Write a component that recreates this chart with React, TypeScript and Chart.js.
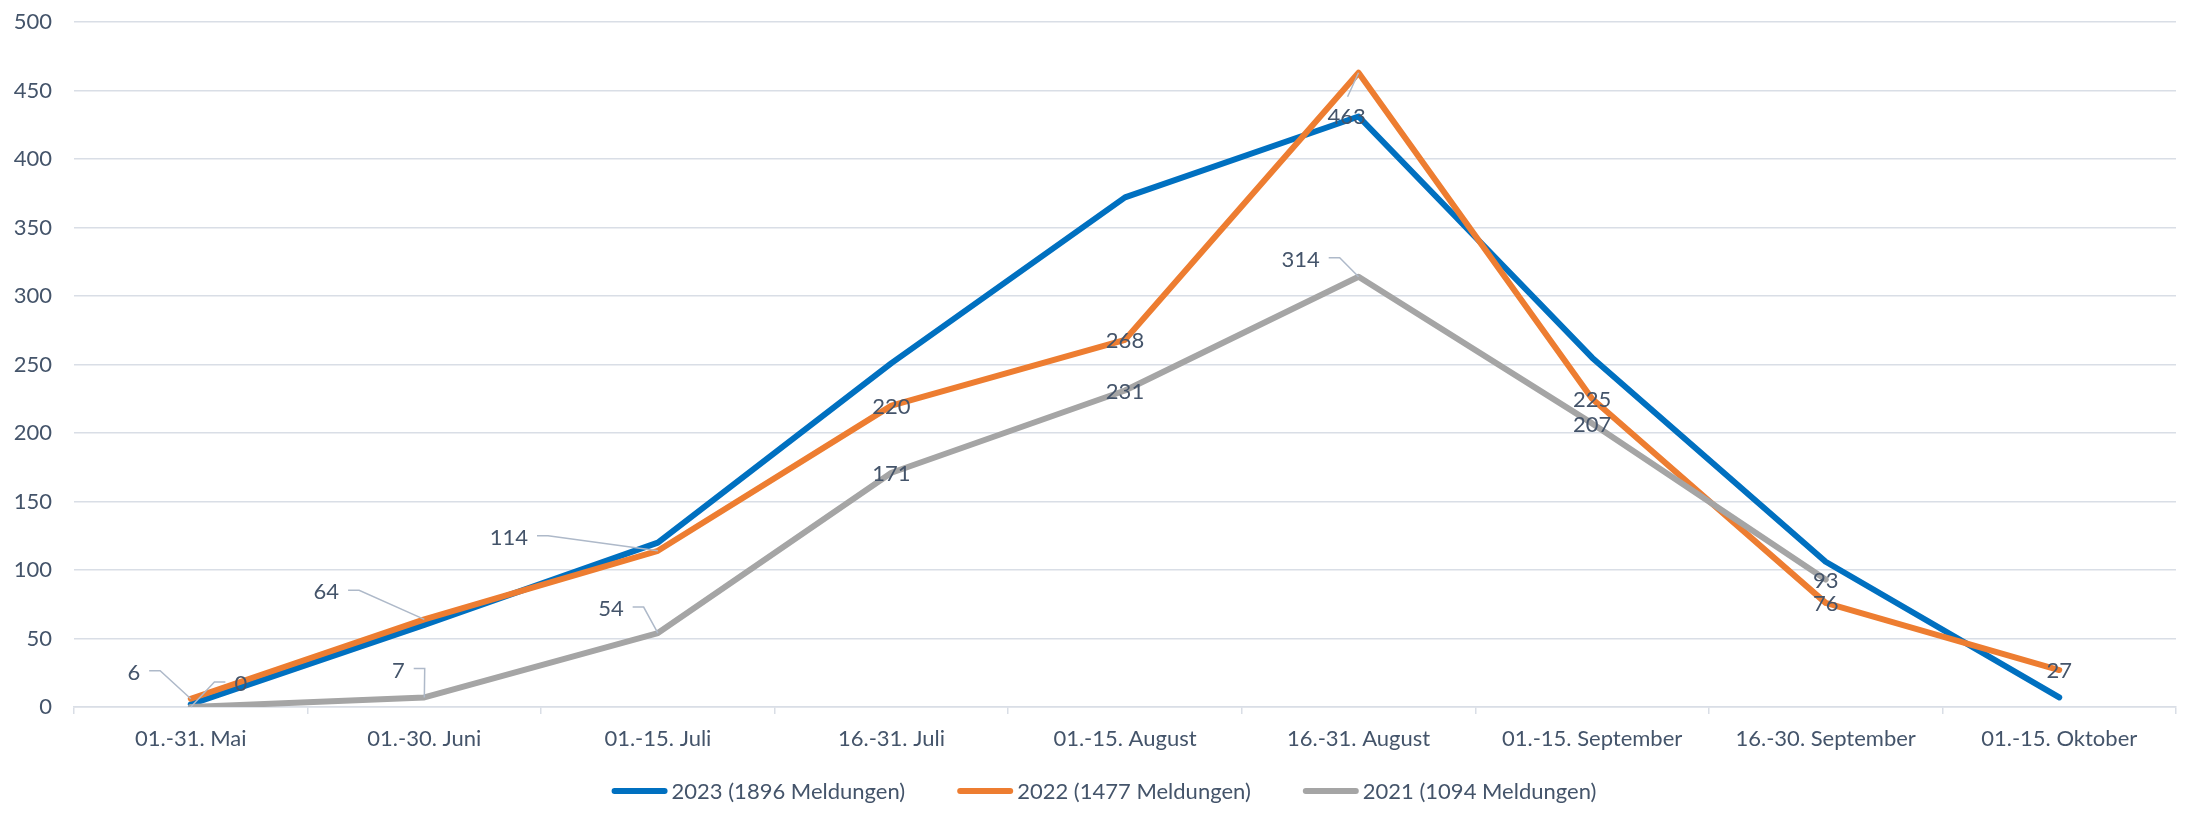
import React, { useEffect, useRef } from "react";
import { Chart, registerables } from "chart.js";

Chart.register(...registerables);

// ---------- data ----------
const categories = [
  "01.-31. Mai",
  "01.-30. Juni",
  "01.-15. Juli",
  "16.-31. Juli",
  "01.-15. August",
  "16.-31. August",
  "01.-15. September",
  "16.-30. September",
  "01.-15. Oktober",
];
const values2023 = [2, 60, 120, 251, 372, 431, 255, 106, 7];
const values2022 = [6, 64, 114, 220, 268, 463, 225, 76, 27];
const values2021 = [0, 7, 54, 171, 231, 314, 207, 93, null];
const seriesNames = ["2023 (1896 Meldungen)", "2022 (1477 Meldungen)", "2021 (1094 Meldungen)"];
const yMin = 0;
const yMax = 500;
const yStep = 50;

// ---------- styles ----------
const FONT = "Lato, 'Open Sans', sans-serif";
const FONT_SIZE = 22;
const TEXT_COLOR = "#44546A";
const GRID_COLOR = "#D9DEE6";
const LEADER_COLOR = "#AEB9C9";
const COLORS = ["#0070C0", "#ED7D31", "#A5A5A5"];

type Placement = { dx: number; dy: number; leader?: "h" | "v" };
const P0: Placement = { dx: 0, dy: 0 };
// label offsets (pixels) relative to the data point, per series
const placements2022: Placement[] = [
  { dx: -57, dy: -27, leader: "h" },
  { dx: -98, dy: -28, leader: "h" },
  { dx: -149, dy: -14, leader: "h" },
  P0,
  P0,
  { dx: -12, dy: 43, leader: "v" },
  P0,
  P0,
  P0,
];
const placements2021: Placement[] = [
  { dx: 50, dy: -24, leader: "h" },
  { dx: -26, dy: -28, leader: "h" },
  { dx: -47, dy: -25, leader: "h" },
  P0,
  P0,
  { dx: -58, dy: -18, leader: "h" },
  P0,
  P0,
  P0,
];
const labelPlacements: Record<number, Placement[]> = { 1: placements2022, 2: placements2021 };

const dataLabelPlugin = {
  id: "dataLabelsCustom",
  afterDatasetsDraw(chart: any) {
    const ctx = chart.ctx;
    ctx.save();
    ctx.font = `${FONT_SIZE}px ${FONT}`;
    ctx.textAlign = "center";
    ctx.textBaseline = "middle";
    Object.keys(labelPlacements).forEach((k) => {
      const di = Number(k);
      const pl = labelPlacements[di];
      const meta = chart.getDatasetMeta(di);
      const data = chart.data.datasets[di].data;
      meta.data.forEach((el: any, i: number) => {
        const v = data[i];
        if (v === null || v === undefined) return;
        const p = pl[i] || P0;
        const lx = el.x + p.dx;
        const ly = el.y + p.dy;
        const txt = String(v);
        const w = ctx.measureText(txt).width;
        if (p.leader) {
          ctx.strokeStyle = LEADER_COLOR;
          ctx.lineWidth = 1.5;
          ctx.beginPath();
          if (p.leader === "h") {
            const dir = p.dx < 0 ? 1 : -1;
            const sx = lx + dir * (w / 2 + 9);
            const ex = sx + dir * 11;
            ctx.moveTo(sx, ly - 1);
            ctx.lineTo(ex, ly - 1);
            ctx.lineTo(el.x, el.y);
          } else {
            ctx.moveTo(lx + 1, ly - 19);
            ctx.lineTo(el.x, el.y);
          }
          ctx.stroke();
        }
        ctx.fillStyle = TEXT_COLOR;
        ctx.fillText(txt, lx, ly + 1);
      });
    });
    ctx.restore();
  },
};

const legendPlugin = {
  id: "legendCustom",
  afterDraw(chart: any) {
    const ctx = chart.ctx;
    ctx.save();
    ctx.font = `${FONT_SIZE}px ${FONT}`;
    ctx.textAlign = "left";
    ctx.textBaseline = "middle";
    const swatchW = 56;
    const gap = 4;
    const itemGap = 52;
    const items = chart.data.datasets.map((ds: any) => ({
      text: ds.label,
      color: ds.borderColor,
      w: ctx.measureText(ds.label).width,
    }));
    const total =
      items.reduce((s: number, it: any) => s + swatchW + gap + it.w, 0) + itemGap * (items.length - 1);
    let x = 1104 - total / 2;
    const y = 791;
    items.forEach((it: any) => {
      ctx.strokeStyle = it.color;
      ctx.lineWidth = 6;
      ctx.lineCap = "round";
      ctx.beginPath();
      ctx.moveTo(x + 3, y);
      ctx.lineTo(x + swatchW - 3, y);
      ctx.stroke();
      ctx.fillStyle = TEXT_COLOR;
      ctx.fillText(it.text, x + swatchW + gap, y + 1);
      x += swatchW + gap + it.w + itemGap;
    });
    ctx.restore();
  },
};

export default function App() {
  const ref = useRef<HTMLCanvasElement | null>(null);

  useEffect(() => {
    if (!ref.current) return;
    const mk = (label: string, data: (number | null)[], color: string, order: number) => ({
      label,
      data,
      borderColor: color,
      backgroundColor: color,
      borderWidth: 6,
      pointRadius: 0,
      pointHoverRadius: 0,
      tension: 0,
      fill: false,
      borderJoinStyle: "round" as const,
      borderCapStyle: "round" as const,
      order,
    });
    const chart = new Chart(ref.current, {
      type: "line",
      data: {
        labels: categories,
        datasets: [
          mk(seriesNames[0], values2023, COLORS[0], 2),
          mk(seriesNames[1], values2022, COLORS[1], 1),
          mk(seriesNames[2], values2021, COLORS[2], 0),
        ],
      },
      options: {
        animation: false,
        responsive: true,
        maintainAspectRatio: false,
        layout: { padding: { left: 0, right: 14, top: 22, bottom: 0 } },
        plugins: {
          legend: { display: false },
          tooltip: { enabled: false },
        },
        scales: {
          x: {
            offset: true,
            grid: {
              offset: true,
              drawOnChartArea: false,
              drawTicks: true,
              tickLength: 7,
              color: GRID_COLOR,
              lineWidth: 1.5,
            },
            border: { display: true, color: GRID_COLOR, width: 1.5 },
            ticks: {
              color: TEXT_COLOR,
              font: { family: FONT, size: FONT_SIZE },
              padding: 12,
              maxRotation: 0,
              autoSkip: false,
            },
            afterFit: (scale: any) => {
              scale.height = 107;
            },
          },
          y: {
            min: yMin,
            max: yMax,
            grid: {
              color: GRID_COLOR,
              lineWidth: 1.5,
              drawTicks: true,
              tickLength: 22,
              tickColor: "rgba(0,0,0,0)",
            },
            border: { display: false },
            ticks: {
              stepSize: yStep,
              color: TEXT_COLOR,
              font: { family: FONT, size: FONT_SIZE },
              padding: 0,
            },
            afterFit: (scale: any) => {
              scale.width = 74;
            },
          },
        },
      },
      plugins: [dataLabelPlugin, legendPlugin],
    });
    return () => chart.destroy();
  }, []);

  return (
    <div style={{ position: "fixed", left: 0, top: 0, width: 2190, height: 814, background: "#fff" }}>
      <canvas ref={ref} />
    </div>
  );
}
